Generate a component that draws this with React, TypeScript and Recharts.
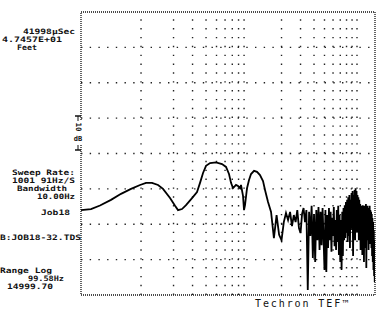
import React from 'react';
import { LineChart, Line, XAxis, YAxis, ReferenceLine, ReferenceArea } from 'recharts';

// Smooth low-frequency part (Hz, relative dB)
const smoothFreqs = [27.8, 34.4, 41.7, 52.7, 65.3, 80.8, 97.9, 111.3, 126.4, 143.7, 159.8, 185.6, 206.5, 220.1, 239.6, 261.0, 296.7, 330.0, 351.8, 375.1, 399.8, 435.5, 495.0, 562.3, 612.4, 652.7, 681.3, 711.0, 758.0, 791.0, 825.4, 843.0, 879.9, 898.9, 918.3, 958.3, 1000, 1044, 1113, 1186, 1264, 1348, 1407, 1468];
const smoothLevels = [24.0, 24.3, 25.3, 26.9, 28.6, 30.0, 31.1, 31.7, 31.7, 31.1, 30.0, 27.4, 25.2, 24.0, 24.3, 25.4, 27.4, 29.1, 31.7, 34.5, 36.5, 37.3, 37.5, 37.0, 36.2, 34.2, 31.7, 30.2, 31.1, 30.8, 30.2, 31.1, 28.0, 24.0, 25.4, 30.2, 32.5, 34.2, 35.1, 34.8, 33.9, 32.2, 29.7, 27.4];

// Noisy high-frequency part, linear sweep samples
const noisyFreqs = [
  1500, 1600, 1700, 1800, 1900,
  2000, 2100, 2200, 2300, 2400, 2500, 2600, 2700, 2800, 2900,
  3000, 3100, 3200, 3300, 3400, 3500, 3600, 3700, 3800, 3900,
  4000, 4100, 4200, 4300, 4400, 4500, 4600, 4700, 4800, 4900,
  5000, 5100, 5200, 5300, 5400, 5500, 5600, 5700, 5800, 5900,
  6000, 6100, 6200, 6300, 6400, 6500, 6600, 6700, 6800, 6900,
  7000, 7100, 7200, 7300, 7400, 7500, 7600, 7700, 7800, 7900,
  8000, 8100, 8200, 8300, 8400, 8500, 8600, 8700, 8800, 8900,
  9000, 9100, 9200, 9300, 9400, 9500, 9600, 9700, 9800, 9900,
  10000, 10100, 10200, 10300, 10400, 10500, 10600, 10700, 10800, 10900,
  11000, 11100, 11200, 11300, 11400, 11500, 11600, 11700, 11800, 11900,
  12000, 12100, 12200, 12300, 12400, 12500, 12600, 12700, 12800, 12900,
  13000, 13100, 13200, 13300, 13400, 13500, 13600, 13700, 13800, 13900,
  14000, 14100, 14200, 14300, 14400, 14500, 14600, 14700,
];
const noisyLevels = [
  26.3, 23.5, 16.1, 22.6, 17.0,
  15.5, 20.6, 23.2, 21.2, 23.5, 19.5, 22.6, 20.6, 24.0, 18.9,
  17.5, 22.9, 24.6, 20.6, 24.0, 1.4, 23.5, 16.7, 25.2, 10.5,
  22.9, 9.3, 24.0, 15.5, 24.9, 12.7, 23.5, 14.1, 24.6, 16.1,
  7.1, 24.0, 6.5, 22.6, 13.3, 24.6, 15.5, 23.5, 12.2, 21.8,
  16.7, 24.9, 13.8, 21.2, 12.7, 24.0, 15.0, 25.2, 11.3, 22.6,
  9.3, 21.2, 7.1, 23.5, 11.0, 24.6, 15.5, 25.4, 16.1, 26.3,
  17.8, 26.9, 15.0, 27.6, 16.7, 28.3, 13.3, 26.9, 18.4, 28.8,
  19.8, 29.4, 11.0, 28.3, 18.9, 29.7, 15.5, 30.2, 21.2, 29.4,
  17.8, 28.3, 19.5, 27.6, 15.5, 26.9, 18.4, 25.7, 12.7, 25.2,
  16.7, 24.0, 11.3, 25.4, 15.5, 24.6, 9.3, 25.2, 18.4, 24.0,
  13.3, 25.7, 7.6, 24.6, 15.5, 25.2, 17.8, 24.0, 12.7, 24.6,
  16.1, 25.2, 14.4, 24.0, 16.7, 23.5, 13.3, 22.9, 11.0, 21.8,
  9.3, 20.6, 7.1, 18.4, 5.4, 15.5, 3.7, 4.8,
];

const xDomain = [27.8, 14680];
const yDomain = [0, 80];
const vGrid = [100, 200, 300, 400, 500, 600, 700, 800, 900, 2000, 3000, 4000, 5000, 6000, 7000, 8000, 9000, 10000];
const hGrid = [10, 20, 30, 40, 50, 60, 70];

const leftLabels = [
  { t: '41998\u00b5Sec', x: 23, y: 34, w: 52 },
  { t: '4.7457E+01', x: 2, y: 42, w: 60 },
  { t: 'Feet', x: 17, y: 50, w: 20 },
  { t: 'Sweep Rate:', x: 12, y: 175, w: 63 },
  { t: '1001 91Hz/S', x: 12, y: 183, w: 63 },
  { t: 'Bandwidth', x: 17, y: 191, w: 50 },
  { t: '10.00Hz', x: 37, y: 199, w: 38 },
  { t: 'Job18', x: 41, y: 215, w: 29 },
  { t: 'B:JOB18-32.TDS', x: 0, y: 240, w: 81 },
  { t: 'Range Log', x: 0, y: 273, w: 52 },
  { t: '99.58Hz', x: 28, y: 281, w: 36 },
  { t: '14999.70', x: 7, y: 289, w: 46 },
];

const data = [
  ...smoothFreqs.map((f, i) => ({ f, v: smoothLevels[i] })),
  ...noisyFreqs.map((f, i) => ({ f, v: noisyLevels[i] })),
];

const mono = '"DejaVu Sans Mono", monospace';

export default function App() {
  return (
    <div style={{ position: 'absolute', left: 0, top: 0, width: 384, height: 313, background: '#fff' }}>
      <LineChart width={384} height={313} data={data} margin={{ top: 12, right: 9, bottom: 18, left: 81 }}>
        <XAxis type="number" dataKey="f" scale="log" domain={xDomain} hide allowDataOverflow />
        <YAxis type="number" domain={yDomain} hide allowDataOverflow />
        {hGrid.map((v) => (
          <ReferenceLine key={'h' + v} y={v} stroke="#222" strokeWidth={1.4} strokeDasharray="1.4 7.3" />
        ))}
        {vGrid.map((f) => (
          <ReferenceLine key={'v' + f} x={f} stroke="#222" strokeWidth={1.4} strokeDasharray="1.4 7.45" />
        ))}
        <ReferenceArea x1={xDomain[0]} x2={xDomain[1]} y1={0} y2={80} fill="none" stroke="#111" strokeWidth={1.3} strokeDasharray="1 1" />
        <Line type="linear" dataKey="v" stroke="#000" strokeWidth={1.8} dot={false} isAnimationActive={false} />
      </LineChart>
      <svg width={384} height={313} style={{ position: 'absolute', left: 0, top: 0, pointerEvents: 'none' }}>
        {leftLabels.map((l) => (
          <text key={l.t} x={l.x} y={l.y} textLength={l.w} lengthAdjust="spacingAndGlyphs" fontFamily={mono} fontWeight="bold" fontSize={7.4} fill="#111">
            {l.t}
          </text>
        ))}
        <line x1={78} y1={116} x2={78} y2={150} stroke="#111" strokeWidth={1} />
        <line x1={75} y1={116} x2={81} y2={116} stroke="#111" strokeWidth={1.5} />
        <line x1={75} y1={150} x2={81} y2={150} stroke="#111" strokeWidth={1.5} />
        <rect x={74} y={121} width={8} height={24} fill="#fff" />
        <text x={78} y={127} transform="rotate(90 78 127)" textAnchor="middle" dominantBaseline="central" fontFamily={mono} fontWeight="bold" fontSize={7.5} fill="#111">10</text>
        <text x={78} y={141} textAnchor="middle" fontFamily={mono} fontWeight="bold" fontSize={7} fill="#111">dB</text>
        <text x={255} y={307} fontFamily={mono} fontSize={10} letterSpacing={1.9} fill="#111">Techron TEF{'\u2122'}</text>
      </svg>
    </div>
  );
}
